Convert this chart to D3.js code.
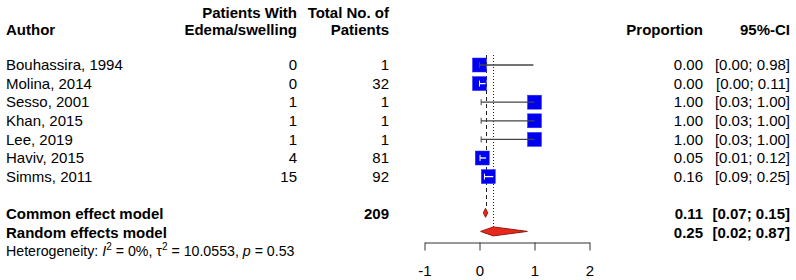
<!DOCTYPE html>
<html>
<head>
<meta charset="utf-8">
<script src="https://cdn.jsdelivr.net/npm/d3@7"></script>
<style>
  body { margin: 0; background: #fff; }
  svg { display: block; }
</style>
</head>
<body>
<div id="chart"></div>
<script>
// study data
const authors = ["Bouhassira, 1994", "Molina, 2014", "Sesso, 2001", "Khan, 2015", "Lee, 2019", "Haviv, 2015", "Simms, 2011"];
const events = [0, 0, 1, 1, 1, 4, 15];
const totals = [1, 32, 1, 1, 1, 81, 92];
const proportions = [0.00, 0.00, 1.00, 1.00, 1.00, 0.05, 0.16];
const lowerCI = [0.00, 0.00, 0.03, 0.03, 0.03, 0.01, 0.09];
const upperCI = [0.98, 0.11, 1.00, 1.00, 1.00, 0.12, 0.25];

// pooled estimates
const modelNames = ["Common effect model", "Random effects model"];
const modelTotals = [209, null];
const modelEst = [0.11, 0.25];
const modelLower = [0.07, 0.02];
const modelUpper = [0.15, 0.87];

const axisTicks = [-1, 0, 1, 2];

const width = 796, height = 280;
const font = "'Liberation Sans', Arial, sans-serif";
const fmt = d3.format(".2f");

const svg = d3.select("#chart").append("svg")
    .attr("width", width)
    .attr("height", height)
    .style("font-family", font)
    .style("font-size", "15px");

// x scale of the plot panel
const x = d3.scaleLinear().domain([-1, 2]).range([424.5, 589.5]);
// crisp 1px vertical lines
const xc = v => Math.round(x(v)) + 0.5;
// rows: 7 studies, blank, 2 models, heterogeneity line
const rowY = i => 65 + i * 18.6;

const col = { author: 6, events: 297, total: 389, prop: 703, ci: 790 };

// headers
const head = svg.append("g").style("font-weight", "bold");
head.append("text").attr("x", col.author).attr("y", 35).text("Author");
head.append("text").attr("x", col.events).attr("y", 18).attr("text-anchor", "end").text("Patients With");
head.append("text").attr("x", col.events).attr("y", 35).attr("text-anchor", "end").text("Edema/swelling");
head.append("text").attr("x", col.total).attr("y", 18).attr("text-anchor", "end").text("Total No. of");
head.append("text").attr("x", col.total).attr("y", 35).attr("text-anchor", "end").text("Patients");
head.append("text").attr("x", col.prop).attr("y", 35).attr("text-anchor", "end").text("Proportion");
head.append("text").attr("x", col.ci).attr("y", 35).attr("text-anchor", "end").text("95%-CI");

// study text columns
const rows = svg.append("g").selectAll("g")
    .data(authors.map((a, i) => ({ a, i })))
    .join("g");
rows.append("text").attr("x", col.author).attr("y", d => rowY(d.i)).attr("dy", "0.35em").text(d => d.a);
rows.append("text").attr("x", col.events).attr("y", d => rowY(d.i)).attr("dy", "0.35em")
    .attr("text-anchor", "end").text(d => events[d.i]);
rows.append("text").attr("x", col.total).attr("y", d => rowY(d.i)).attr("dy", "0.35em")
    .attr("text-anchor", "end").text(d => totals[d.i]);
rows.append("text").attr("x", col.prop).attr("y", d => rowY(d.i)).attr("dy", "0.35em")
    .attr("text-anchor", "end").text(d => fmt(proportions[d.i]));
rows.append("text").attr("x", col.ci).attr("y", d => rowY(d.i)).attr("dy", "0.35em")
    .attr("text-anchor", "end").text(d => `[${fmt(lowerCI[d.i])}; ${fmt(upperCI[d.i])}]`);

// model rows
const mRows = svg.append("g").style("font-weight", "bold").selectAll("g")
    .data(modelNames.map((m, i) => ({ m, i, r: 8 + i })))
    .join("g");
mRows.append("text").attr("x", col.author).attr("y", d => rowY(d.r)).attr("dy", "0.35em").text(d => d.m);
mRows.append("text").attr("x", col.total).attr("y", d => rowY(d.r)).attr("dy", "0.35em")
    .attr("text-anchor", "end").text(d => modelTotals[d.i] == null ? "" : modelTotals[d.i]);
mRows.append("text").attr("x", col.prop).attr("y", d => rowY(d.r)).attr("dy", "0.35em")
    .attr("text-anchor", "end").text(d => fmt(modelEst[d.i]));
mRows.append("text").attr("x", col.ci).attr("y", d => rowY(d.r)).attr("dy", "0.35em")
    .attr("text-anchor", "end").text(d => `[${fmt(modelLower[d.i])}; ${fmt(modelUpper[d.i])}]`);

// heterogeneity line
const het = svg.append("text").attr("x", col.author).attr("y", rowY(10)).attr("dy", "0.35em")
    .style("font-size", "14.2px");
het.append("tspan").text("Heterogeneity: ");
het.append("tspan").style("font-style", "italic").text("I");
het.append("tspan").attr("dy", -6).style("font-size", "10px").text("2");
het.append("tspan").attr("dy", 6).text(" = 0%, \u03c4");
het.append("tspan").attr("dy", -6).style("font-size", "10px").text("2");
het.append("tspan").attr("dy", 6).text(" = 10.0553, ");
het.append("tspan").style("font-style", "italic").text("p");
het.append("tspan").text(" = 0.53");

// reference lines (common = dashed, random = dotted)
const lineTop = rowY(0) - 10;
svg.append("line")
    .attr("x1", xc(modelEst[0])).attr("x2", xc(modelEst[0]))
    .attr("y1", lineTop).attr("y2", rowY(8) - 5)
    .attr("stroke", "#222").attr("stroke-width", 1)
    .attr("stroke-dasharray", "4,3");
svg.append("line")
    .attr("x1", xc(modelEst[1])).attr("x2", xc(modelEst[1]))
    .attr("y1", lineTop).attr("y2", rowY(9) - 4)
    .attr("stroke", "#222").attr("stroke-width", 1)
    .attr("stroke-dasharray", "1,2");

// study squares and CI lines
const sq = 14;
const marks = svg.append("g").selectAll("g")
    .data(authors.map((a, i) => i))
    .join("g");
marks.append("rect")
    .attr("x", i => x(proportions[i]) - sq / 2)
    .attr("y", i => rowY(i) - sq / 2)
    .attr("width", sq).attr("height", sq)
    .attr("fill", "#0000f0")
    .attr("stroke", "#3030ff").attr("stroke-width", 0.5);
const inside = i => x(lowerCI[i]) >= x(proportions[i]) - sq / 2 && x(upperCI[i]) <= x(proportions[i]) + sq / 2;
marks.append("line")
    .attr("x1", i => x(lowerCI[i])).attr("x2", i => x(upperCI[i]))
    .attr("y1", i => rowY(i)).attr("y2", i => rowY(i))
    .attr("stroke", i => inside(i) ? "#fff" : "#444")
    .attr("stroke-width", 1.3);
marks.append("line")
    .attr("x1", i => x(lowerCI[i])).attr("x2", i => x(lowerCI[i]))
    .attr("y1", i => rowY(i) - 3).attr("y2", i => rowY(i) + 3)
    .attr("stroke", i => inside(i) ? "#fff" : "#444")
    .attr("stroke-width", 1);

// diamonds for pooled estimates
const dh = [4.5, 4.5];
svg.append("g").selectAll("path")
    .data(modelNames.map((m, i) => i))
    .join("path")
    .attr("d", i => {
        const y = rowY(8 + i) - 1;
        return `M${x(modelLower[i])},${y}L${x(modelEst[i])},${y - dh[i]}L${x(modelUpper[i])},${y}L${x(modelEst[i])},${y + dh[i]}Z`;
    })
    .attr("fill", "#e8281c")
    .attr("stroke", "#9b1a10")
    .attr("stroke-width", 1);

// x axis
const axis = svg.append("g")
    .attr("transform", "translate(0,242.5)")
    .call(d3.axisBottom(x).tickValues(axisTicks).tickSize(8).tickSizeOuter(0)
        .tickPadding(15).tickFormat(d => String(d)));
axis.selectAll("text").style("font-size", "15px").style("font-family", font).attr("fill", "#000");
axis.selectAll("line,path").attr("stroke", "#333");
</script>
</body>
</html>
